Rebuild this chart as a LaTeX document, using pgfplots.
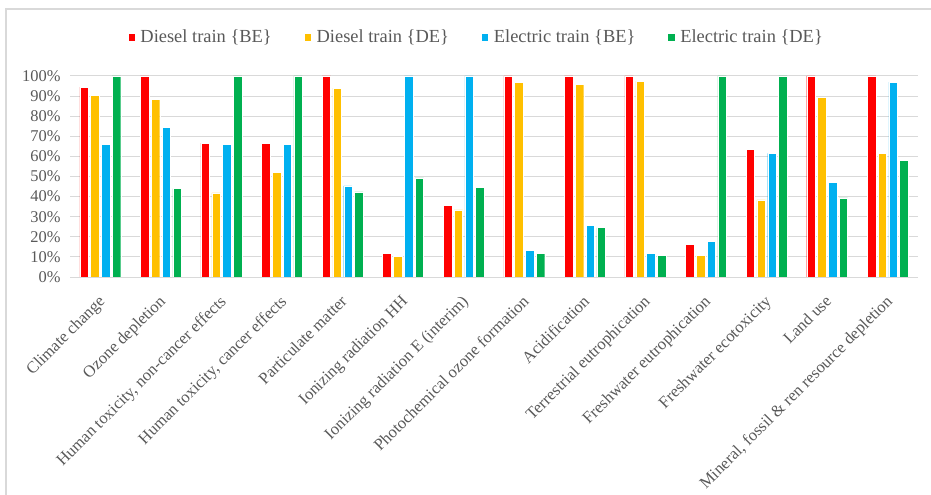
\documentclass[border=0pt]{standalone}
\usepackage{pgfplots}
\pgfplotsset{compat=1.18}
\usepackage{fontspec}
\setmainfont{Liberation Serif}

\definecolor{dbe}{HTML}{FF0000}
\definecolor{dde}{HTML}{FFC000}
\definecolor{ebe}{HTML}{00B0F0}
\definecolor{ede}{HTML}{00B050}
\definecolor{txt}{HTML}{595959}
\definecolor{gridc}{HTML}{D9D9D9}

% Relative impact per category (percent of the highest option)
\pgfplotstableread{
x  dbe   dde   ebe   ede
0  94.5  90.5  66.0  100
1  100   88.5  74.4  44.0
2  66.6  41.9  66.0  100
3  66.6  52.2  66.0  100
4  100   94.0  45.3  42.4
5  11.8  10.3  100   49.3
6  35.5  33.4  100   44.5
7  100   97.0  13.3  11.8
8  100   96.0  25.7  24.6
9  100   97.5  11.8  10.8
10 16.3  10.8  17.8  100
11 63.5  38.4  61.5  100
12 100   89.5  47.2  39.4
13 100   61.5  97.0  58.1
}\impacts

\begin{document}
\begin{tikzpicture}
\useasboundingbox (0,0) rectangle (931bp,495bp);
% chart frame
\draw[gridc, line width=1.2bp] (6bp,0) -- (6bp,486bp) -- (931bp,486bp);
\begin{axis}[
  at={(70bp,218bp)}, anchor=south west,
  scale only axis, width=848bp, height=201bp,
  xmin=-0.5, xmax=13.5, ymin=0, ymax=100,
  ybar=2.3bp, bar width=8.5bp,
  axis line style={draw=none},
  major tick length=0pt,
  ytick={0,10,...,100},
  yticklabels={0\%,10\%,20\%,30\%,40\%,50\%,60\%,70\%,80\%,90\%,100\%},
  ymajorgrids, grid style={gridc, line width=1bp},
  xtick=data,
  xticklabels={Climate change, Ozone depletion, {Human toxicity, non-cancer effects},
    {Human toxicity, cancer effects}, Particulate matter, Ionizing radiation HH,
    Ionizing radiation E (interim), Photochemical ozone formation, Acidification,
    Terrestrial eutrophication, Freshwater eutrophication, Freshwater ecotoxicity,
    Land use, {Mineral, fossil \& ren resource depletion}},
  xticklabel style={rotate=45, anchor=north east, font=\fontsize{16.6}{18}\selectfont, text=txt, inner sep=1bp, xshift=-13bp, yshift=-9bp},
  yticklabel style={font=\fontsize{16.5}{17}\selectfont, text=txt, xshift=-6bp},
  legend columns=4,
  legend style={at={(rel axis cs:0.479,1.194)}, anchor=center, draw=none,
    font=\fontsize{18.5}{19}\selectfont, text=txt, inner sep=0pt,
    /tikz/every odd column/.append style={column sep=3bp},
    /tikz/every even column/.append style={column sep=30bp}},
  legend image code/.code={\fill[#1] (0bp,-4bp) rectangle (7.5bp,4bp);},
  every axis plot/.append style={draw=white, line width=0.4bp},
]
\addplot[fill=dbe] table[x=x,y=dbe] {\impacts};
\addplot[fill=dde] table[x=x,y=dde] {\impacts};
\addplot[fill=ebe] table[x=x,y=ebe] {\impacts};
\addplot[fill=ede] table[x=x,y=ede] {\impacts};
\legend{Diesel train \{BE\}, Diesel train \{DE\}, Electric train \{BE\}, Electric train \{DE\}}
\end{axis}
\end{tikzpicture}
\end{document}
